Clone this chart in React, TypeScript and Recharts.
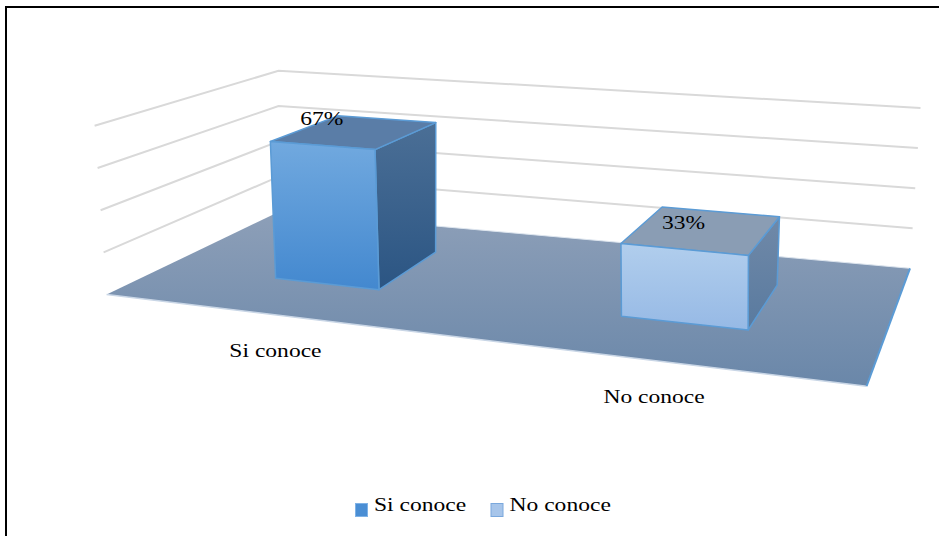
import React from 'react';
import { BarChart, Bar, XAxis, YAxis, CartesianGrid, LabelList, Legend } from 'recharts';

// ---- data ----
const categories = ['Si conoce', 'No conoce'];
const shares = [0.67, 0.33];
const shareLabels = ['67%', '33%'];
const valueTicks = [0, 0.2, 0.4, 0.6, 0.8];

const data = categories.map((name, i) => ({ name, value: shares[i] }));

// ---- layout ----
const W = 939;
const H = 536;
const MARGIN = { top: 20, right: 20, bottom: 20, left: 20 };
const PLOT = {
  left: MARGIN.left,
  top: MARGIN.top,
  width: W - MARGIN.left - MARGIN.right,
  height: H - MARGIN.top - MARGIN.bottom,
};

// Perspective room: screen position of the floor corners of the unit room
// (u across, w into depth). Order: (0,0) (1,0) (0,1) (1,1).
const FLOOR_CORNERS: [number, number][] = [
  [106.6, 294.6],
  [866.6, 386.2],
  [278.5, 212],
  [910, 268.3],
];
// Wall corners at the top of the value range: (0,0) (0,1) (1,1).
const CEILING_ANCHORS: [number, number][] = [
  [94.6, 125.8],
  [278.5, 70.8],
  [920.5, 108],
];
const DEPTH_FRONT = 0.3;
const DEPTH_BACK = 0.71;
const U_SHIFT = 0.012;

const FONT = "'Liberation Serif', 'Times New Roman', serif";
const STRETCH = 1.24;

const BOX_STYLES = [
  { front: ['#71a9df', '#4388cf'], side: ['#4b6f96', '#2b5583'], top: '#5a7da7' },
  { front: ['#b1ceed', '#96b9e5'], side: ['#7089a8', '#597a9f'], top: '#8a9db4' },
];
const EDGE = '#5b9bd5';
const LEGEND_COLORS = [
  { fill: '#4a8ed4', stroke: '#7fb2e6' },
  { fill: '#a7c5ea', stroke: '#7aa8dd' },
];
const LEGEND_X = [355, 490.5];

// ---- projection math ----
function gauss(A: number[][], b: number[]): number[] {
  const n = b.length;
  const M = A.map((r, i) => [...r, b[i]]);
  for (let c = 0; c < n; c++) {
    let p = c;
    for (let r = c + 1; r < n; r++) if (Math.abs(M[r][c]) > Math.abs(M[p][c])) p = r;
    const tmp = M[c];
    M[c] = M[p];
    M[p] = tmp;
    for (let r = 0; r < n; r++) {
      if (r === c) continue;
      const f = M[r][c] / M[c][c];
      for (let k = c; k <= n; k++) M[r][k] -= f * M[c][k];
    }
  }
  return M.map((r, i) => r[n] / r[i]);
}

// floor homography from the unit square
const FH = (() => {
  const src = [[0, 0], [1, 0], [0, 1], [1, 1]];
  const A: number[][] = [];
  const b: number[] = [];
  src.forEach(([x, y], i) => {
    const [X, Y] = FLOOR_CORNERS[i];
    A.push([x, y, 1, 0, 0, 0, -x * X, -y * X]);
    b.push(X);
    A.push([0, 0, 0, x, y, 1, -x * Y, -y * Y]);
    b.push(Y);
  });
  return gauss(A, b);
})();

// top plane shares the floor's perspective divisor
const CH = (() => {
  const g = FH[6];
  const h = FH[7];
  const [a, b, c] = CEILING_ANCHORS;
  const d01 = 1 + h;
  const d11 = 1 + g + h;
  const p2 = a[0];
  const p5 = a[1];
  const p1 = b[0] * d01 - p2;
  const p4 = b[1] * d01 - p5;
  const p0 = c[0] * d11 - p1 - p2;
  const p3 = c[1] * d11 - p4 - p5;
  return [p0, p1, p2, p3, p4, p5];
})();

function proj(u: number, v: number, w: number): [number, number] {
  const d = FH[6] * u + FH[7] * w + 1;
  const fx = FH[0] * u + FH[1] * w + FH[2];
  const fy = FH[3] * u + FH[4] * w + FH[5];
  const cx = CH[0] * u + CH[1] * w + CH[2];
  const cy = CH[3] * u + CH[4] * w + CH[5];
  return [(fx + (cx - fx) * v) / d, (fy + (cy - fy) * v) / d];
}

const pts = (list: [number, number][]) => list.map((p) => `${p[0].toFixed(2)},${p[1].toFixed(2)}`).join(' ');

const toU = (x: number) => (x - PLOT.left) / PLOT.width + U_SHIFT;
const toV = (y: number) => (PLOT.top + PLOT.height - y) / PLOT.height;

// ---- stretched serif text ----
function StretchText({ x, y, anchor = 'start', children }: any) {
  return (
    <text
      transform={`translate(${x},${y}) scale(${STRETCH},1)`}
      textAnchor={anchor}
      style={{ fontFamily: FONT }}
      fontSize={19}
      fill="#000"
    >
      {children}
    </text>
  );
}

// ---- room: floor and wall gridlines, one per value tick ----
function RoomLevel(props: any) {
  const y = props.y1 ?? props.y;
  const v = toV(y);
  if (Math.abs(v) < 1e-6) {
    const f00 = proj(0, 0, 0);
    const f10 = proj(1, 0, 0);
    const f01 = proj(0, 0, 1);
    const f11 = proj(1, 0, 1);
    return (
      <g key={props.key}>
        <defs>
          <linearGradient id="floorFill" x1="0" y1="0" x2="0" y2="1">
            <stop offset="0%" stopColor="#8d9fb8" />
            <stop offset="100%" stopColor="#6a87a9" />
          </linearGradient>
        </defs>
        <polygon points={pts([f00, f10, f11, f01])} fill="url(#floorFill)" stroke="none" />
        <line x1={f00[0]} y1={f00[1]} x2={f10[0]} y2={f10[1]} stroke="#c9d6e6" strokeWidth={1.5} />
        <line x1={f01[0]} y1={f01[1]} x2={f11[0]} y2={f11[1]} stroke="#dde5ee" strokeWidth={1} />
        <line x1={f10[0]} y1={f10[1]} x2={f11[0]} y2={f11[1]} stroke={EDGE} strokeWidth={2} />
      </g>
    );
  }
  const p0 = proj(0, v, 0);
  const p1 = proj(0, v, 1);
  const p2 = proj(1, v, 1);
  return (
    <polyline
      key={props.key}
      points={pts([p0, p1, p2])}
      fill="none"
      stroke="#d9d9d9"
      strokeWidth={2}
    />
  );
}

// ---- 3D column ----
function Box3D(props: any) {
  const { x, y, width, height, index } = props;
  const bg = props.background;
  const top = bg && bg.height ? bg.y : PLOT.top;
  const ph = bg && bg.height ? bg.height : PLOT.height;
  const base = top + ph;
  const u0 = (x - PLOT.left) / PLOT.width + U_SHIFT;
  const u1 = (x + width - PLOT.left) / PLOT.width + U_SHIFT;
  const vt = (base - y) / ph;
  const vb = (base - (y + height)) / ph;
  const wf = DEPTH_FRONT;
  const wb = DEPTH_BACK;
  const st = BOX_STYLES[index % BOX_STYLES.length];
  const front = [proj(u0, vb, wf), proj(u1, vb, wf), proj(u1, vt, wf), proj(u0, vt, wf)] as [number, number][];
  const side = [proj(u1, vb, wf), proj(u1, vb, wb), proj(u1, vt, wb), proj(u1, vt, wf)] as [number, number][];
  const lid = [proj(u0, vt, wf), proj(u1, vt, wf), proj(u1, vt, wb), proj(u0, vt, wb)] as [number, number][];
  return (
    <g>
      <defs>
        <linearGradient id={`boxFront${index}`} x1="0" y1="0" x2="0" y2="1">
          <stop offset="0%" stopColor={st.front[0]} />
          <stop offset="100%" stopColor={st.front[1]} />
        </linearGradient>
        <linearGradient id={`boxSide${index}`} x1="0" y1="0" x2="0" y2="1">
          <stop offset="0%" stopColor={st.side[0]} />
          <stop offset="100%" stopColor={st.side[1]} />
        </linearGradient>
      </defs>
      <polygon points={pts(side)} fill={`url(#boxSide${index})`} stroke={EDGE} strokeWidth={1.5} strokeLinejoin="round" />
      <polygon points={pts(lid)} fill={st.top} stroke={EDGE} strokeWidth={1.5} strokeLinejoin="round" />
      <polygon points={pts(front)} fill={`url(#boxFront${index})`} stroke={EDGE} strokeWidth={1.5} strokeLinejoin="round" />
    </g>
  );
}

function rectOf(p: any) {
  const vb = p.viewBox && p.viewBox.width !== undefined ? p.viewBox : p;
  return { x: Number(vb.x), y: Number(vb.y), width: Number(vb.width), height: Number(vb.height) };
}

function ValueLabel(p: any) {
  const { x, y, width } = rectOf(p);
  const uc = toU(x + width / 2);
  const [sx, sy] = proj(uc, toV(y), DEPTH_FRONT);
  return (
    <StretchText x={sx} y={sy - 20} anchor="middle">
      {shareLabels[p.index]}
    </StretchText>
  );
}

function CategoryLabel(p: any) {
  const { x, width } = rectOf(p);
  const uc = toU(x + width / 2);
  const [sx, sy] = proj(uc, 0, 0);
  return (
    <StretchText x={sx} y={sy + 42} anchor="middle">
      {categories[p.index]}
    </StretchText>
  );
}

function LegendRow() {
  return (
    <svg width={W} height={40} style={{ display: 'block', overflow: 'visible' }}>
      {categories.map((name, i) => (
        <g key={name}>
          <rect
            x={LEGEND_X[i] + 0.5}
            y={23.5}
            width={12}
            height={13}
            fill={LEGEND_COLORS[i].fill}
            stroke={LEGEND_COLORS[i].stroke}
          />
          <StretchText x={LEGEND_X[i] + 19} y={31}>
            {name}
          </StretchText>
        </g>
      ))}
    </svg>
  );
}

export default function App() {
  return (
    <div style={{ position: 'absolute', left: 0, top: 0, width: W, height: H, background: '#fff', overflow: 'hidden' }}>
      <div
        style={{
          position: 'absolute',
          left: 5,
          top: 6,
          width: W,
          height: H,
          borderLeft: '2px solid #000',
          borderTop: '2px solid #000',
        }}
      />
      <div style={{ position: 'absolute', left: 0, top: 0 }}>
        <BarChart width={W} height={H} data={data} margin={MARGIN} barCategoryGap="34%">
          <XAxis dataKey="name" hide />
          <YAxis type="number" domain={[0, 0.8]} ticks={valueTicks} hide />
          <CartesianGrid vertical={false} horizontal={(p: any) => <RoomLevel {...p} />} />
          <Legend
            verticalAlign="middle"
            layout="horizontal"
            wrapperStyle={{ position: 'absolute', left: 0, top: 480, width: W, height: 40 }}
            content={() => <LegendRow />}
          />
          <Bar dataKey="value" isAnimationActive={false} shape={(p: any) => <Box3D {...p} />}>
            <LabelList dataKey="value" content={(p: any) => <ValueLabel {...p} />} />
            <LabelList dataKey="name" content={(p: any) => <CategoryLabel {...p} />} />
          </Bar>
        </BarChart>
      </div>
    </div>
  );
}
